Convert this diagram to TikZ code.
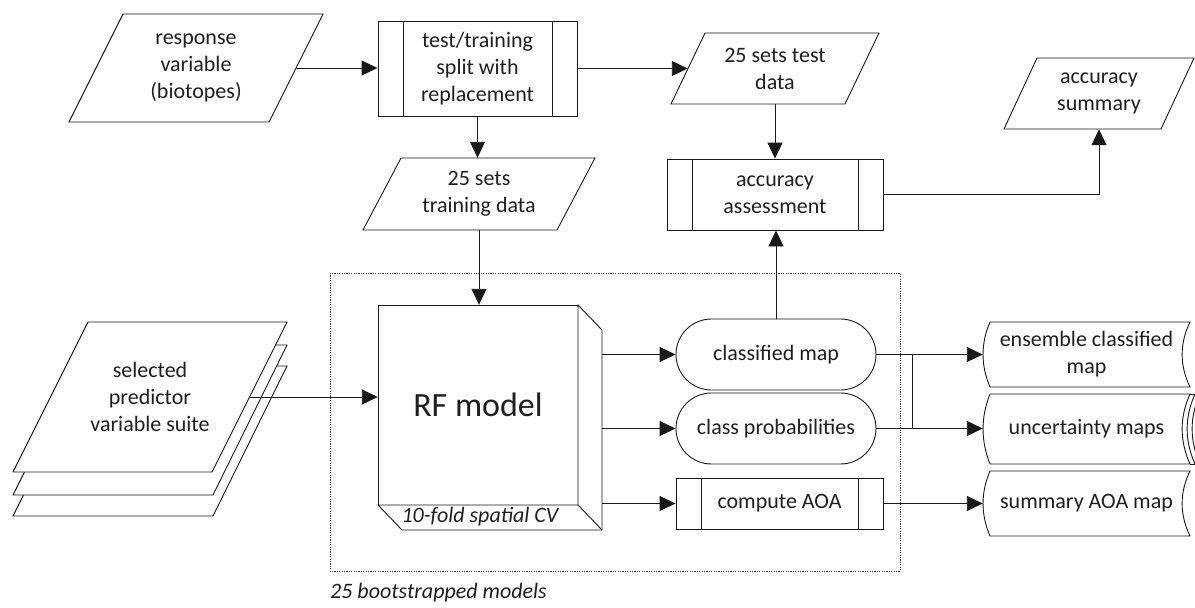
\documentclass[tikz,border=0pt]{standalone}
\usepackage{fontspec}
\setmainfont{Carlito}
\usetikzlibrary{arrows.meta,calc}
\tikzset{
  outl/.style={draw=black!90, line width=0.9pt},
  ln/.style={draw=black!90, line width=0.9pt},
  txt/.style={inner sep=0pt, align=center, font=\fontsize{22}{27}\selectfont, text=black!88},
  itxt/.style={inner sep=0pt, align=center, font=\fontsize{22}{27}\selectfont\itshape, text=black!88},
  arr/.style={draw=black!90, line width=0.9pt, -{Triangle[length=16pt,width=15pt]}},
  dotbox/.style={draw=black!80, line width=0.8pt, dash pattern=on 1.2pt off 1.2pt},
}
% parallelogram: name, top-left x, top-right x, top y, bottom-left x, bottom y, text
\newcommand\pgram[7]{%
  \draw[outl, fill=white] (#2,#4) -- (#3,#4) -- ({#5+#3-#2},#6) -- (#5,#6) -- cycle;
  \node[txt, minimum width={#3-#2}, minimum height={#6-#4}] (#1) at ({(#5+#3)/2},{(#4+#6)/2}) {#7};}
% predefined process: name, x1, x2, y1, y2, text
\newcommand\procbox[6]{%
  \node[txt, outl, fill=white, minimum width={#3-#2}, minimum height={#5-#4}] (#1) at ({(#2+#3)/2},{(#4+#5)/2}) {#6};
  \draw[ln] (#2+25,#4) -- (#2+25,#5) (#3-25,#4) -- (#3-25,#5);}
% stored data: name, left bulge x, right corner x, y1, y2, text
\newcommand\sdata[6]{%
  \draw[outl, fill=white] (#2+7,#4) -- (#3,#4) .. controls (#3-10.5,{#4+(#5-#4)/3}) and (#3-10.5,{#5-(#5-#4)/3}) .. (#3,#5) -- (#2+7,#5) .. controls (#2-2.3,{#5-(#5-#4)/3}) and (#2-2.3,{#4+(#5-#4)/3}) .. cycle;
  \node[txt, minimum width={#3-#2}, minimum height={#5-#4}] (#1) at ({(#2+#3)/2},{(#4+#5)/2}) {#6};}
\begin{document}
\begin{tikzpicture}[x=1pt, y=-1pt]
\useasboundingbox (0,0) rectangle (1195,608);
\fill[white] (0,0) rectangle (1195,608);

% dotted frame
\draw[dotbox] (330,273) rectangle (900,571);
\node[itxt, anchor=west] (boot) at (330,593) {25 bootstrapped models};

% top row
\pgram{resp}{123}{323}{14}{69}{122}{response\\variable\\(biotopes)}
\procbox{split}{378}{577}{21}{116}{test/training\\split with\\replacement}
\pgram{testd}{705}{879}{33}{671}{104}{25 sets test\\data}
\pgram{accsum}{1037}{1194}{58}{1004}{129}{accuracy\\summary}
\pgram{train}{401}{595}{158}{363}{230}{25 sets\\training data}
\procbox{accas}{667}{883}{159}{230}{accuracy\\assessment}

% predictor stack
\draw[outl, fill=white] (88,366) -- (287,366) -- (213,516) -- (13,516) -- cycle;
\draw[outl, fill=white] (88,345) -- (287,345) -- (213,495) -- (13,495) -- cycle;
\pgram{pred}{88}{287}{322}{13}{472}{selected\\predictor\\variable suite}

% RF model box
\draw[outl, fill=white] (378,305) rectangle (578,505);
\draw[outl, fill=white] (578,305) -- (602,330) -- (602,530) -- (402,530) -- (378,505) -- (578,505) -- cycle;
\draw[ln] (578,505) -- (602,530);
\node[inner sep=0pt, minimum width=224, minimum height=225] (rf) at (490,417.5) {};
\node[inner sep=0pt, font=\fontsize{34}{40}\selectfont, text=black!88] (rft) at (478,405) {RF model};
\node[itxt] (cv) at (480,517) {10-fold spatial CV};

% products
\node[txt, outl, fill=white, rounded corners=35.5pt, minimum width=200, minimum height=71] (cm) at (776,354.5) {classified map};
\node[txt, outl, fill=white, rounded corners=35.5pt, minimum width=200, minimum height=71] (cp) at (776,428.5) {class probabilities};
\procbox{aoa}{676}{883}{478}{529}{compute AOA}

% outputs
\draw[ln] (1190,394) -- (1205,394) (1190,464) -- (1205,464);
\draw[ln] (1195,394) .. controls (1184.5,{394+70/3}) and (1184.5,{464-70/3}) .. (1195,464);
\draw[ln] (1200,394) .. controls (1189.5,{394+70/3}) and (1189.5,{464-70/3}) .. (1200,464);
\sdata{ens}{983}{1190}{322}{387}{ensemble classified\\map}
\sdata{unc}{983}{1190}{394}{464}{uncertainty maps}
\sdata{sam}{983}{1190}{471}{536}{summary AOA map}

% connectors
\draw[arr] (resp.east) -- (resp.east -| split.west);
\draw[arr] (split.east) -- (split.east -| testd.west);
\draw[arr] (split.south) -- (split.south |- train.north);
\draw[arr] (testd.south) -- (testd.south |- accas.north);
\draw[arr] (accas.east) -| (accsum.south);
\draw[arr] (train.south) -- (train.south |- rf.north);
\draw[arr] (pred.east) -- (pred.east -| rf.west);
\draw[arr] (cm.west -| rf.east) -- (cm.west);
\draw[arr] (cp.west -| rf.east) -- (cp.west);
\draw[arr] (aoa.west -| rf.east) -- (aoa.west);
\draw[arr] (cm.north) -- (cm.north |- accas.south);
\draw[arr] (cm.east) -- (cm.east -| ens.west);
\draw[arr] (cp.east) -- (cp.east -| unc.west);
\draw[ln] ($(cm.east)+(36,0)$) -- ($(cp.east)+(36,0)$);
\draw[arr] (aoa.east) -- (aoa.east -| sam.west);
\end{tikzpicture}
\end{document}
